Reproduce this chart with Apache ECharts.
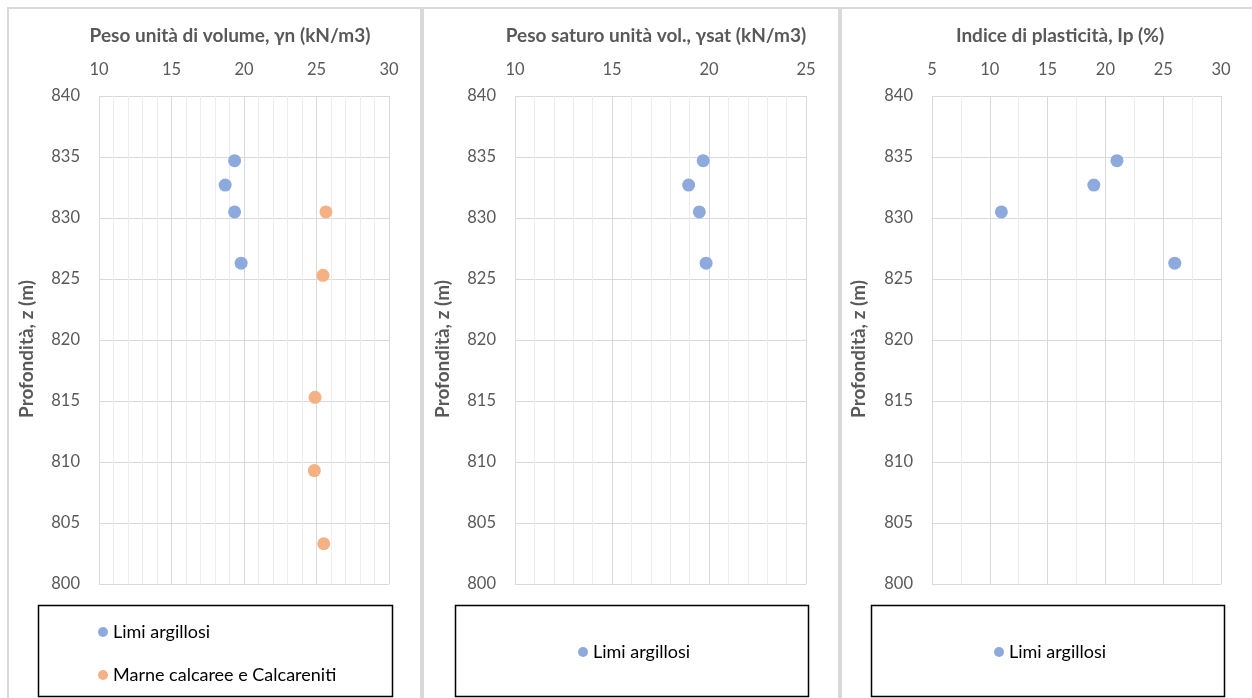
<!DOCTYPE html>
<html><head><meta charset="utf-8">
<script src="https://cdn.jsdelivr.net/npm/echarts@6/dist/echarts.min.js"></script>
<style>html,body{margin:0;padding:0;background:#fff}#c{width:1252px;height:698px}</style>
</head><body><div id="c"></div>
<script>
// Data
const depthLimi = [834.7, 832.7, 830.5, 826.3];
const gammaNLimi = [19.35, 18.7, 19.35, 19.8];
const depthMarne = [830.5, 825.3, 815.3, 809.3, 803.3];
const gammaNMarne = [25.65, 25.45, 24.9, 24.85, 25.5];
const gammaSatLimi = [19.7, 18.95, 19.5, 19.85];
const ipLimi = [21, 19, 11, 26];
const titles = ['Peso unità di volume, γn (kN/m3)', 'Peso saturo unità vol., γsat (kN/m3)', 'Indice di plasticità, Ip (%)'];
const yTitle = 'Profondità, z (m)';
const seriesNames = ['Limi argillosi', 'Marne calcaree e Calcareniti'];
const xRanges = [[10, 30, 5, 5], [10, 25, 5, 5], [5, 30, 5, 2]];
const yRange = [800, 840, 5];

const blue = '#8eaadc', orange = '#f4b183', txt = '#595959';
const font = 'Lato, "Open Sans", sans-serif';
const pair = (xs, ys) => xs.map((x, i) => [x, ys[i]]);

const grids = [
  {left: 99, top: 96, width: 290, height: 488},
  {left: 515, top: 96, width: 291, height: 488},
  {left: 932, top: 96, width: 289, height: 488}
];
const titlePos = [225, 651, 1055];
const yTitleX = [27, 443, 859];

const xAxes = xRanges.map((r, i) => ({
  type: 'value', gridIndex: i, position: 'top', min: r[0], max: r[1], interval: r[2],
  axisLine: {show: false}, axisTick: {show: false},
  axisLabel: {color: txt, fontSize: 16.5, fontFamily: font, margin: 18},
  splitLine: {show: true, lineStyle: {color: '#d9d9d9', width: 1}},
  minorTick: {show: false, splitNumber: r[3]},
  minorSplitLine: {show: true, lineStyle: {color: '#ececec', width: 1}}
}));
const yAxes = [0, 1, 2].map(i => ({
  type: 'value', gridIndex: i, min: yRange[0], max: yRange[1], interval: yRange[2],
  axisLine: {show: false}, axisTick: {show: false},
  axisLabel: {color: txt, fontSize: 16.5, fontFamily: font, margin: 19},
  splitLine: {show: true, lineStyle: {color: '#d9d9d9', width: 1}}
}));

const mk = (name, data, i, color) => ({
  name, type: 'scatter', xAxisIndex: i, yAxisIndex: i, data,
  symbol: 'circle', symbolSize: 13, itemStyle: {color, opacity: 1}
});

const legText = {color: '#000', fontSize: 18, fontFamily: font};
const option = {
  backgroundColor: '#fff',
  animation: false,
  title: titles.map((t, i) => ({
    text: t, left: titlePos[i], top: 21, textAlign: 'center',
    textStyle: {color: txt, fontSize: 19, fontWeight: 'bold', fontFamily: font}
  })),
  grid: grids,
  xAxis: xAxes,
  yAxis: yAxes,
  legend: [
    {data: [seriesNames[0], seriesNames[1]], orient: 'vertical', left: 93, top: 618, itemGap: 25,
     icon: 'circle', itemWidth: 10, itemHeight: 10, textStyle: legText},
    {data: [{name: seriesNames[0]}], left: 573, top: 638, icon: 'circle', itemWidth: 10, itemHeight: 10,
     selectedMode: false, textStyle: legText},
    {data: [{name: seriesNames[0]}], left: 989, top: 638, icon: 'circle', itemWidth: 10, itemHeight: 10,
     selectedMode: false, textStyle: legText}
  ],
  graphic: [
    {type: 'rect', shape: {x: 8, y: 8, width: 413, height: 720}, style: {fill: 'none', stroke: '#d9d9d9', lineWidth: 2}, z: -1},
    {type: 'rect', shape: {x: 423, y: 8, width: 416, height: 720}, style: {fill: 'none', stroke: '#d9d9d9', lineWidth: 2}, z: -1},
    {type: 'rect', shape: {x: 841, y: 8, width: 430, height: 720}, style: {fill: 'none', stroke: '#d9d9d9', lineWidth: 2}, z: -1},
    {type: 'rect', shape: {x: 38.5, y: 605.5, width: 354, height: 91}, style: {fill: 'none', stroke: '#000', lineWidth: 1.5}},
    {type: 'rect', shape: {x: 455.5, y: 605.5, width: 353, height: 91}, style: {fill: 'none', stroke: '#000', lineWidth: 1.5}},
    {type: 'rect', shape: {x: 871.5, y: 605.5, width: 353, height: 91}, style: {fill: 'none', stroke: '#000', lineWidth: 1.5}},
    ...yTitleX.map(x => ({
      type: 'text', x: x, y: 349, rotation: Math.PI / 2,
      style: {text: yTitle, fill: txt, font: 'bold 19px ' + font, textAlign: 'center', textVerticalAlign: 'middle'}
    }))
  ],
  series: [
    mk(seriesNames[0], pair(gammaNLimi, depthLimi), 0, blue),
    mk(seriesNames[1], pair(gammaNMarne, depthMarne), 0, orange),
    mk(seriesNames[0], pair(gammaSatLimi, depthLimi), 1, blue),
    mk(seriesNames[0], pair(ipLimi, depthLimi), 2, blue)
  ]
};
const chart = echarts.init(document.getElementById('c'));
chart.setOption(option);
</script></body></html>
